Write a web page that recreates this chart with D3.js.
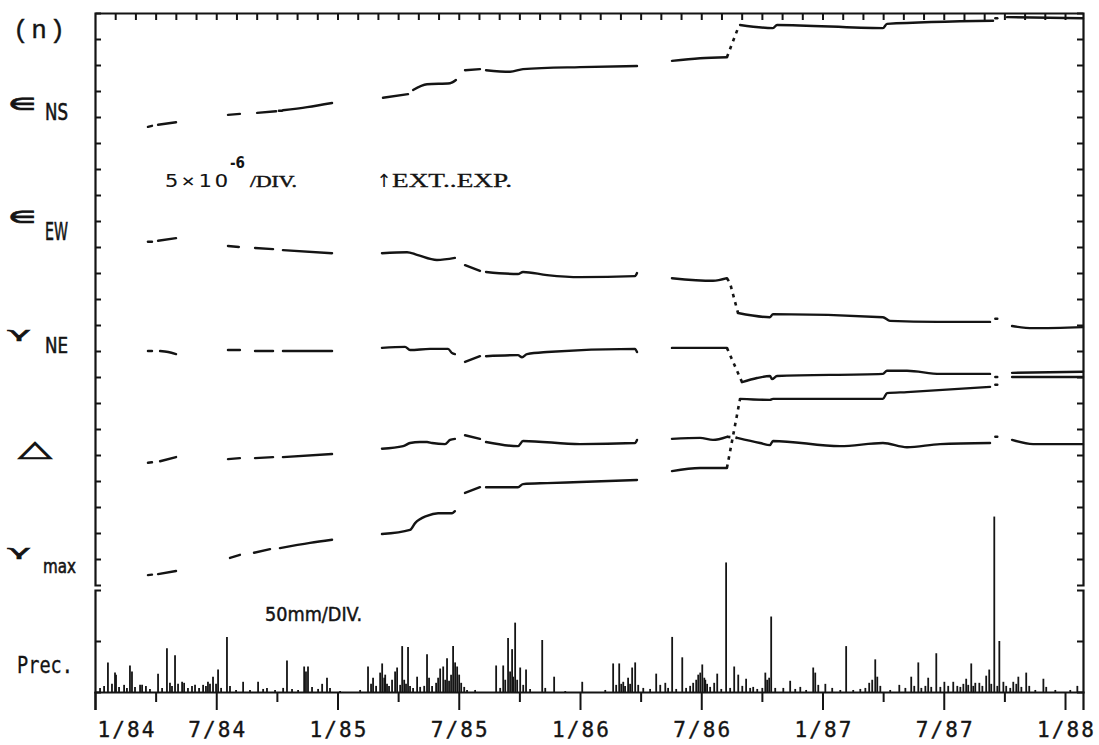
<!DOCTYPE html>
<html>
<head>
<meta charset="utf-8">
<script src="https://cdn.jsdelivr.net/npm/d3@7"></script>
<style>
  html, body { margin: 0; padding: 0; background: #fff; }
  svg { display: block; }
</style>
</head>
<body>
<svg id="chart" width="1099" height="745"></svg>
<script>
// ---- time axis: months counted from January 1984 ----
const monthTicks   = [1,2,3,4,5,6,7,8,9,10,11,12,13,14,15,16,17,18,19,20,21,22,23,24,
                      25,26,27,28,29,30,31,32,33,34,35,36,37,38,39,40,41,42,43,44,45,46,47,48];
const quarterTicks = [3,9,15,21,27,33,39,45];
const labelMonths  = [0,6,12,18,24,30,36,42,48];
const dateLabels   = ["1/84","7/84","1/85","7/85","1/86","7/86","1/87","7/87","1/88"];

// ---- strain axis: 5 x 10^-6 per division ----
const strainTicks = [5,10,15,20,25,30,35,40,45,50,55,60,65,70,75,80,85,90,95,100,105];
// ---- precipitation axis: 50 mm per division ----
const precTicks = [50];

// Strain traces, each a list of recorded pieces [month, strain(10^-6)]
const epsNS = [
  [[2.62,88.1],[2.82,88.3]],
  [[3.12,88.5],[4.01,89.0]],
  [[6.58,90.4],[7.17,90.6]],
  [[8.02,90.8],[8.96,91.1]],
  [[9.10,91.2],[9.25,91.2]],
  [[9.30,91.3],[10.50,91.9],[11.73,92.7]],
  [[14.25,93.7],[15.49,94.4]],
  [[15.74,95.2],[16.43,96.3],[17.57,96.5],[17.86,97.1]],
  [[18.31,99.0],[19.05,99.2]],
  [[19.35,99.0],[20.54,98.7],[21.18,99.2],[24.00,99.6],[26.82,99.8]],
  [[28.55,100.8],[29.94,101.3],[31.27,101.5]],
  [[31.92,107.7],[33.55,107.1],[33.75,107.7],[38.99,107.1],[39.19,107.9],[44.44,108.5]],
  [[44.55,109.0],[44.65,109.0]],
  [[45.13,109.2],[48.89,109.0]]
];
const epsNSJumps = [[[31.27,101.5],[31.87,107.6]]];

const epsEW = [
  [[2.62,66.0],[2.82,66.0]],
  [[3.12,66.2],[4.01,66.7]],
  [[6.58,65.2],[7.12,65.0]],
  [[7.92,64.8],[8.81,64.6]],
  [[9.30,64.4],[11.73,63.8]],
  [[14.20,63.8],[15.44,64.0],[15.93,63.5],[16.92,62.5],[17.81,62.9]],
  [[18.31,61.5],[19.05,60.4]],
  [[19.35,60.2],[20.93,59.8],[21.18,60.2],[22.37,59.6],[24.00,59.2],[26.72,59.4],[26.82,60.0]],
  [[28.55,59.0],[30.58,58.5],[31.27,59.0]],
  [[31.82,52.3],[33.40,51.5],[33.55,52.1],[38.99,51.5],[39.34,50.8],[41.67,50.6],[44.29,50.6]],
  [[44.55,51.2],[44.65,51.2]],
  [[45.38,49.8],[46.42,49.4],[48.89,49.6]]
];
const epsEWJumps = [[[31.27,59.0],[31.42,58.1],[31.82,52.3]]];

const gamNE = [
  [[2.62,45.0],[2.82,45.0]],
  [[3.22,45.0],[3.62,44.8],[4.01,44.4]],
  [[6.58,45.2],[7.17,45.2]],
  [[7.92,45.0],[8.81,45.0]],
  [[9.30,45.0],[11.73,45.0]],
  [[14.20,45.6],[15.34,45.8],[15.59,45.2],[16.58,45.4],[17.47,45.4],[17.67,44.6],[17.81,44.4]],
  [[18.31,42.9],[19.05,44.0]],
  [[19.35,44.0],[20.93,44.2],[21.13,43.8],[21.38,44.4],[22.37,44.8],[26.72,45.4],[26.82,44.8]],
  [[28.55,45.6],[31.27,45.6]],
  [[32.02,39.0],[32.76,39.8],[33.40,40.2],[33.50,39.6],[33.75,40.2],[38.99,40.6],[39.19,41.2],[40.18,41.2],[41.82,40.6],[44.29,40.6]],
  [[44.55,40.0],[44.65,40.0]],
  [[45.38,40.8],[48.89,41.0]]
];
const gamNEJumps = [[[31.27,45.6],[32.02,39.0]]];

const dilat = [
  [[2.62,23.5],[2.82,23.6]],
  [[3.22,23.8],[4.01,24.6]],
  [[6.58,24.2],[7.17,24.4]],
  [[7.92,24.4],[8.81,24.6]],
  [[9.30,24.6],[11.73,25.2]],
  [[14.20,26.2],[15.25,26.7],[15.59,27.3],[16.08,27.5],[16.43,27.5],[16.68,27.3],[17.32,27.1],[17.57,27.9],[17.81,28.1]],
  [[18.31,28.8],[19.05,28.1]],
  [[19.35,27.5],[20.93,26.7],[21.18,27.7],[24.00,27.1],[26.72,27.3],[26.82,27.9]],
  [[28.55,28.1],[29.94,28.3],[30.58,27.9],[31.27,28.5]],
  [[31.77,28.3],[32.91,27.3],[33.40,26.9],[33.55,27.7],[36.87,26.7],[38.99,27.3],[40.18,26.5],[41.82,27.1],[44.29,27.3]],
  [[44.55,28.5],[44.65,28.5]],
  [[45.38,27.9],[46.42,27.1],[48.89,27.1]]
];
const dilatJumps = [[[31.27,28.5],[31.77,28.3]]];

const gamMax = [
  [[2.62,1.9],[2.82,2.0]],
  [[3.12,2.1],[4.01,2.7]],
  [[6.68,5.2],[7.17,5.8]],
  [[7.87,6.2],[8.66,6.9]],
  [[9.15,7.1],[10.64,8.1],[11.73,8.7]],
  [[14.20,9.8],[15.59,10.6],[15.84,11.9],[16.43,13.3],[16.98,13.8],[17.67,13.8],[17.81,14.2]],
  [[18.31,17.7],[19.05,18.8]],
  [[19.35,18.8],[20.93,18.8],[21.18,19.4],[22.37,19.6],[24.00,19.8],[26.82,20.2]],
  [[28.55,21.9],[29.94,22.5],[31.27,22.5]],
  [[31.92,35.8],[33.40,35.6],[33.55,35.8],[38.99,35.8],[39.19,36.9],[40.18,37.1],[44.29,38.1]],
  [[44.55,38.5],[44.65,38.5]],
  [[45.38,40.0],[48.89,40.0]]
];
const gamMaxJumps = [[[31.27,22.5],[31.92,35.8]]];

// Daily precipitation [month, mm]
const precip = [
  [0.25,4],[0.45,6],[0.64,29],[0.84,8],[0.99,19],[1.04,17],[1.19,5],[1.44,7],[1.58,4],[1.73,26],
  [1.83,20],[1.98,5],[2.23,7],[2.33,7],[2.52,6],[2.72,3],[3.12,18],[3.32,4],[3.56,43],[3.71,9],
  [3.81,6],[3.96,36],[4.11,8],[4.31,10],[4.41,9],[4.60,4],[4.80,6],[4.95,7],[5.15,4],[5.35,7],
  [5.49,6],[5.59,10],[5.69,8],[5.84,15],[5.99,8],[6.09,22],[6.24,4],[6.53,54],[6.68,6],[6.98,2],
  [7.33,10],[7.67,2],[8.07,10],[8.32,3],[8.51,4],[8.91,2],[9.31,4],[9.50,31],[9.75,3],[10.05,2],
  [10.35,25],[10.44,20],[10.54,25],[10.74,5],[11.04,3],[11.24,8],[11.48,14],[11.63,4],[12.13,1],[13.12,2],
  [13.51,25],[13.66,8],[13.76,14],[13.91,6],[14.11,19],[14.21,28],[14.31,14],[14.36,17],[14.45,8],[14.55,6],
  [14.70,12],[14.85,20],[14.95,24],[15.10,7],[15.20,45],[15.30,12],[15.39,8],[15.49,44],[15.59,6],[15.74,4],
  [15.94,15],[16.09,5],[16.29,6],[16.43,37],[16.53,14],[16.68,6],[16.88,9],[16.98,14],[17.08,23],[17.23,25],
  [17.33,12],[17.42,33],[17.52,11],[17.62,17],[17.72,45],[17.82,29],[17.92,25],[18.02,17],[18.12,9],[18.27,5],
  [18.41,2],[18.81,2],[19.85,26],[20.05,4],[20.20,26],[20.30,12],[20.44,53],[20.54,20],[20.64,42],[20.69,15],
  [20.79,68],[20.89,12],[21.04,24],[21.19,7],[21.33,22],[21.53,3],[22.13,51],[22.28,4],[22.72,15],[23.27,1],
  [24.11,10],[25.25,2],[25.64,28],[25.79,7],[25.94,28],[26.04,8],[26.14,10],[26.23,6],[26.38,14],[26.48,8],
  [26.58,24],[26.73,29],[26.88,7],[27.13,4],[27.47,3],[27.77,18],[27.97,7],[28.22,9],[28.36,4],[28.56,54],
  [28.76,3],[29.06,34],[29.25,4],[29.45,6],[29.60,9],[29.75,12],[29.85,17],[29.95,19],[30.05,27],[30.15,14],
  [30.20,12],[30.29,8],[30.44,5],[30.64,9],[30.79,18],[30.99,3],[31.23,127],[31.43,4],[31.63,25],[31.83,17],
  [32.03,6],[32.22,13],[32.42,4],[32.57,5],[32.77,3],[33.02,4],[33.17,19],[33.26,12],[33.36,14],[33.46,74],
  [33.66,4],[34.06,4],[34.40,11],[34.65,3],[34.90,5],[35.19,2],[35.54,24],[35.64,19],[35.79,7],[36.14,8],
  [36.48,4],[36.88,2],[37.17,45],[37.52,2],[37.87,3],[38.12,4],[38.31,9],[38.46,12],[38.61,32],[38.71,15],
  [38.86,6],[39.35,2],[39.80,7],[40.10,4],[40.39,15],[40.54,6],[40.74,29],[40.89,4],[41.09,6],[41.23,14],
  [41.38,5],[41.63,38],[41.83,5],[42.03,10],[42.22,6],[42.47,10],[42.67,6],[42.82,5],[42.97,8],[43.11,13],
  [43.21,7],[43.36,28],[43.46,6],[43.56,9],[43.76,9],[43.91,6],[44.10,16],[44.25,22],[44.35,8],[44.50,172],
  [44.65,6],[44.75,50],[44.95,10],[45.09,6],[45.29,4],[45.44,10],[45.59,8],[45.69,15],[45.84,5],[46.08,19],
  [46.23,6],[46.53,2],[46.93,13],[47.07,5],[47.52,2],[48.26,2],[48.61,6]
];

// ---- layout ----
const INK = "#141414";
const svg = d3.select("#chart");

const x  = d3.scaleLinear().domain([0, 48.89]).range([95, 1083]);
const yS = d3.scaleLinear().domain([0, 110]).range([585, 13]);
const yP = d3.scaleLinear().domain([0, 100]).range([692, 590]);

function styleAxis(g) {
  g.selectAll("path.domain").attr("stroke", INK).attr("stroke-width", 2.2).attr("fill", "none");
  g.selectAll(".tick line").attr("stroke", INK).attr("stroke-width", 2);
}

// top frame with monthly ticks
svg.append("g").attr("transform", `translate(0,${yS(110)})`)
  .call(d3.axisTop(x).tickValues(monthTicks).tickSizeInner(-7).tickSizeOuter(0).tickFormat(""))
  .call(styleAxis);

// strain panel side axes
svg.append("g").attr("transform", `translate(${x(0)},0)`)
  .call(d3.axisLeft(yS).tickValues(strainTicks).tickSizeInner(-6).tickSizeOuter(-6).tickFormat(""))
  .call(styleAxis);
svg.append("g").attr("transform", `translate(${x(48.89)},0)`)
  .call(d3.axisRight(yS).tickValues(strainTicks).tickSizeInner(-6).tickSizeOuter(-6).tickFormat(""))
  .call(styleAxis);

// precipitation panel side axes
svg.append("g").attr("transform", `translate(${x(0)},0)`)
  .call(d3.axisLeft(yP).tickValues(precTicks).tickSizeInner(-6).tickSizeOuter(-6).tickFormat(""))
  .call(styleAxis);
svg.append("g").attr("transform", `translate(${x(48.89)},0)`)
  .call(d3.axisRight(yP).tickValues(precTicks).tickSizeInner(-6).tickSizeOuter(-6).tickFormat(""))
  .call(styleAxis);

// precipitation bars
svg.append("g").selectAll("line").data(precip).join("line")
  .attr("x1", d => x(d[0])).attr("x2", d => x(d[0]))
  .attr("y1", yP(0)).attr("y2", d => yP(d[1]))
  .attr("stroke", INK).attr("stroke-width", 1.8);

// time axis: half-year ticks with labels, quarter ticks without
const bottom = svg.append("g").attr("transform", `translate(0,${yP(0)})`)
  .call(d3.axisBottom(x).tickValues(labelMonths).tickSizeInner(18).tickSizeOuter(18)
        .tickFormat((d, i) => dateLabels[i]))
  .call(styleAxis);
bottom.selectAll(".tick text")
  .attr("y", 45).attr("dy", 0)
  .attr("font-family", "'DejaVu Sans Mono', monospace")
  .attr("font-size", 21).attr("fill", INK)
  .attr("stroke", INK).attr("stroke-width", 0.35)
  .attr("textLength", 57).attr("lengthAdjust", "spacing")
  .each(function(d, i) {
    if (i === 0) d3.select(this).attr("text-anchor", "start").attr("x", 2);
  });
svg.append("g").attr("transform", `translate(0,${yP(0)})`)
  .call(d3.axisBottom(x).tickValues(quarterTicks).tickSizeInner(10).tickSizeOuter(0).tickFormat(""))
  .call(styleAxis)
  .call(g => g.select("path.domain").remove());

// strain traces
const line = d3.line().x(d => x(d[0])).y(d => yS(d[1])).curve(d3.curveMonotoneX);
const traces = [
  { pieces: epsNS,  jumps: epsNSJumps },
  { pieces: epsEW,  jumps: epsEWJumps },
  { pieces: gamNE,  jumps: gamNEJumps },
  { pieces: dilat,  jumps: dilatJumps },
  { pieces: gamMax, jumps: gamMaxJumps }
];
const jumpLine = d3.line().x(d => x(d[0])).y(d => yS(d[1]));
const gT = svg.append("g").attr("fill", "none").attr("stroke", INK);
traces.forEach(t => {
  gT.append("g").selectAll("path").data(t.pieces).join("path")
    .attr("d", line).attr("stroke-width", 2.4)
    .attr("stroke-linecap", "round").attr("stroke-linejoin", "round");
  gT.append("g").selectAll("path").data(t.jumps).join("path")
    .attr("d", jumpLine).attr("stroke-width", 2.6)
    .attr("stroke-dasharray", "3.5,5");
});

// ---- text ----
function label(str, px, py, o) {
  const t = svg.append("text")
    .attr("transform", `translate(${px},${py}) rotate(${o.rot || 0}) scale(${o.sx || 1},${o.sy || 1})`)
    .attr("font-family", o.family || "'DejaVu Sans', sans-serif")
    .attr("font-size", o.size)
    .attr("font-weight", o.weight || "normal")
    .attr("text-anchor", o.anchor || "start")
    .attr("fill", INK)
    .text(str);
  if (o.baseline) t.attr("dominant-baseline", o.baseline);
  if (o.len) t.attr("textLength", o.len).attr("lengthAdjust", o.adjust || "spacingAndGlyphs");
  if (o.stroke) t.attr("stroke", INK).attr("stroke-width", o.stroke);
  return t;
}

label("(n)", 13, 38, { family: "'Liberation Mono', monospace", size: 26, len: 52, adjust: "spacing", stroke: 0.4 });

// component names on the left
const cond = { family: "'DejaVu Sans', sans-serif" };
label("∈", 22, 104, { size: 19, weight: "bold", anchor: "middle", baseline: "central", sx: 1.6, sy: 0.9, stroke: 0.6 });
label("NS", 45, 120, { ...cond, size: 23, len: 23, stroke: 0.6 });
label("∈", 22, 217, { size: 19, weight: "bold", anchor: "middle", baseline: "central", sx: 1.6, sy: 0.9, stroke: 0.6 });
label("EW", 45, 240, { ...cond, size: 24, len: 23, stroke: 0.6 });
label("γ", 19, 333, { family: "'DejaVu Sans', sans-serif", size: 28, anchor: "middle", baseline: "central", sx: 1.45, sy: 0.5, stroke: 0.9 });
label("NE", 45, 353, { ...cond, size: 22, len: 23, stroke: 0.6 });
label("△", 35, 448, { size: 26, anchor: "middle", baseline: "central", sx: 1.7, sy: 0.85, stroke: 0.9 });
label("γ", 19, 551, { family: "'DejaVu Sans', sans-serif", size: 28, anchor: "middle", baseline: "central", sx: 1.45, sy: 0.5, stroke: 0.9 });
label("max", 43, 573, { ...cond, size: 19, len: 33, stroke: 0.6 });

// scale notes
label("5×1O", 165, 187, { family: "'DejaVu Sans Mono', monospace", size: 17, sx: 1.3, len: 48.5, adjust: "spacing" });
label("-6", 230, 168, { family: "'DejaVu Sans', sans-serif", size: 16, weight: "bold", len: 15 });
label("/DIV.", 250, 187, { family: "'Liberation Serif', serif", size: 17, len: 47, stroke: 0.5 });
label("↑", 384, 187, { family: "'DejaVu Sans', sans-serif", size: 18, anchor: "middle" });
label("EXT..EXP.", 392, 187, { family: "'Liberation Serif', serif", size: 19, len: 120, stroke: 0.3 });
label("50mm/DIV.", 265, 621, { ...cond, size: 20, len: 97, stroke: 0.5 });
label("Prec.", 17, 673, { family: "'DejaVu Sans Mono', monospace", size: 23, len: 56, stroke: 0.3 });
</script>
</body>
</html>
